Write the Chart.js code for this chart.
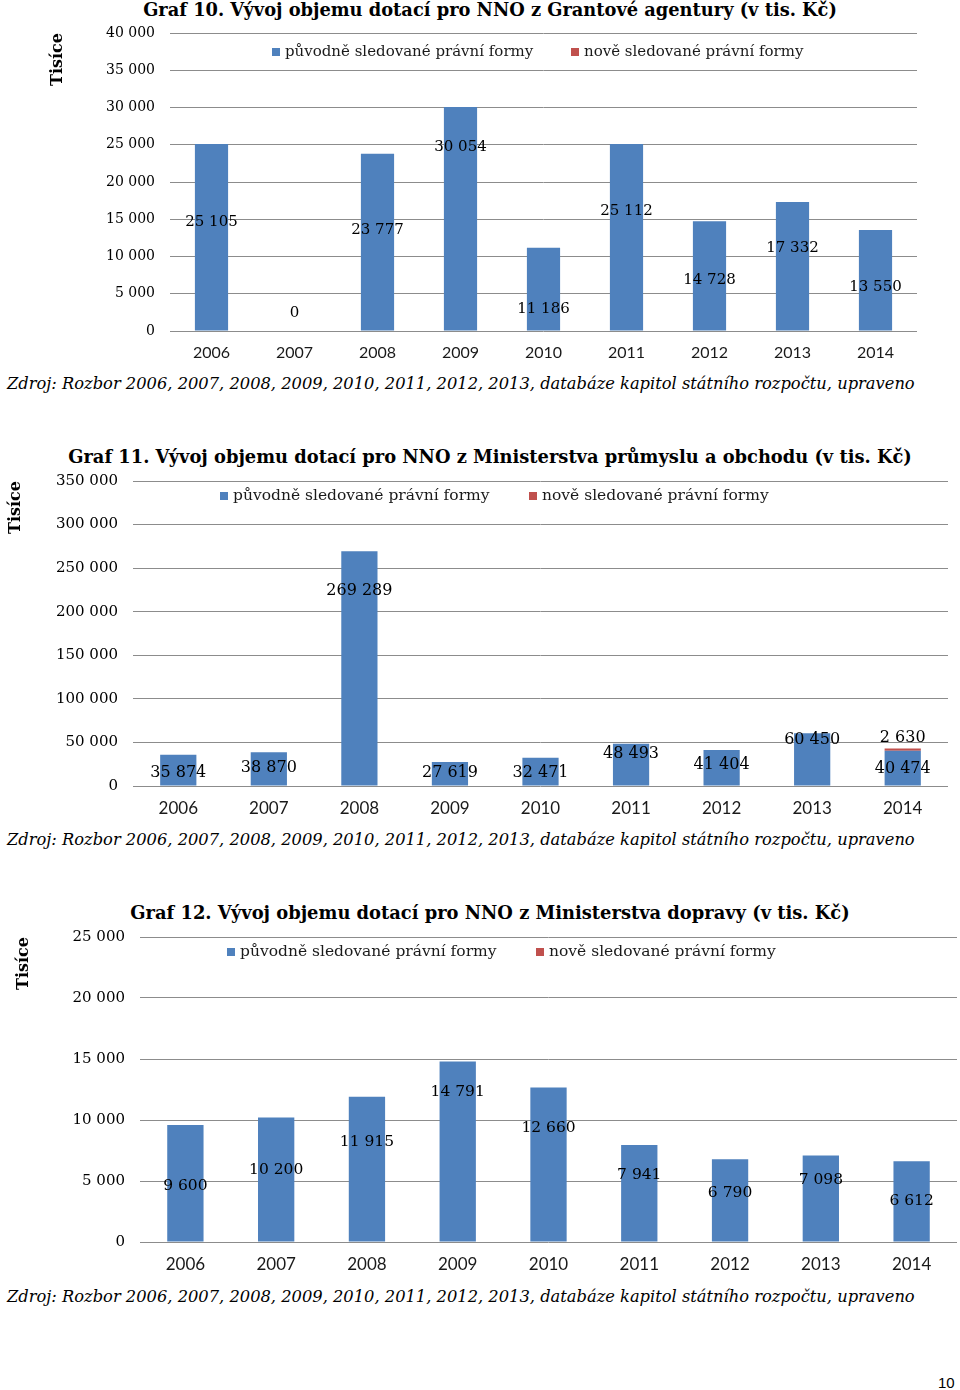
<!DOCTYPE html>
<html lang="cs">
<head>
<meta charset="utf-8">
<title>Vývoj objemu dotací pro NNO</title>
<script src="https://cdn.jsdelivr.net/npm/chart.js@4.4.1/dist/chart.umd.min.js"></script>
<style>
    html, body { margin: 0; padding: 0; background: #fff; }
    body { position: relative; width: 960px; height: 1390px; overflow: hidden; color: #000; }
    .nadpis { position: absolute; left: 20px; width: 940px; text-align: center; line-height: 20px;
              font-family: "DejaVu Serif", serif; font-weight: bold; font-size: 17px; white-space: nowrap; }
    .zdroj { position: absolute; left: 7px; line-height: 20px; font-family: "DejaVu Serif", serif;
             font-style: italic; font-size: 15px; white-space: nowrap; }
    .nadpis span, .zdroj span { display: inline-block; }
    canvas { position: absolute; left: 0; }
    .strana { position: absolute; left: 938px; top: 1374px; font: 15px "Liberation Sans", Arial, sans-serif; }
</style>
</head>
<body>

<div class="nadpis" style="top:0px"><span data-fit="694">Graf 10. Vývoj objemu dotací pro NNO z Grantové agentury (v tis. Kč)</span></div>
<canvas id="graf10" width="960" height="345" style="top:20px"></canvas>
<div class="zdroj" style="top:374px"><span data-fit="909">Zdroj: Rozbor 2006, 2007, 2008, 2009, 2010, 2011, 2012, 2013, databáze kapitol státního rozpočtu, upraveno</span></div>

<div class="nadpis" style="top:447px"><span data-fit="844">Graf 11. Vývoj objemu dotací pro NNO z Ministerstva průmyslu a obchodu (v tis. Kč)</span></div>
<canvas id="graf11" width="960" height="354" style="top:466px"></canvas>
<div class="zdroj" style="top:830px"><span data-fit="909">Zdroj: Rozbor 2006, 2007, 2008, 2009, 2010, 2011, 2012, 2013, databáze kapitol státního rozpočtu, upraveno</span></div>

<div class="nadpis" style="top:903px"><span data-fit="720">Graf 12. Vývoj objemu dotací pro NNO z Ministerstva dopravy (v tis. Kč)</span></div>
<canvas id="graf12" width="960" height="354" style="top:922px"></canvas>
<div class="zdroj" style="top:1287px"><span data-fit="909">Zdroj: Rozbor 2006, 2007, 2008, 2009, 2010, 2011, 2012, 2013, databáze kapitol státního rozpočtu, upraveno</span></div>

<div class="strana">10</div>

<script>
// data (v tis. Kč)
const years = ['2006', '2007', '2008', '2009', '2010', '2011', '2012', '2013', '2014'];

// Graf 10 - Grantová agentura
const gaOriginal = [25105, 0, 23777, 30054, 11186, 25112, 14728, 17332, 13550];
const gaAdded = [null, null, null, null, null, null, null, null, null];
const gaTicks = [0, 5000, 10000, 15000, 20000, 25000, 30000, 35000, 40000];

// Graf 11 - Ministerstvo průmyslu a obchodu
const mpoOriginal = [35874, 38870, 269289, 27619, 32471, 48493, 41404, 60450, 40474];
const mpoAdded = [null, null, null, null, null, null, null, null, 2630];
const mpoTicks = [0, 50000, 100000, 150000, 200000, 250000, 300000, 350000];

// Graf 12 - Ministerstvo dopravy
const mdOriginal = [9600, 10200, 11915, 14791, 12660, 7941, 6790, 7098, 6612];
const mdAdded = [null, null, null, null, null, null, null, null, null];
const mdTicks = [0, 5000, 10000, 15000, 20000, 25000];

// where the value label sits inside each bar (share of bar height from its base)
const gaLabelAt = [0.58, 0, 0.57, 0.82, 0.26, 0.64, 0.46, 0.64, 0.43];
const mpoLabelAt = [0.42, 0.53, 0.83, 0.54, 0.46, 0.76, 0.58, 0.87, 0.48];
const mdLabelAt = [0.48, 0.58, 0.69, 0.83, 0.74, 0.69, 0.59, 0.72, 0.50];

const BLUE = '#4F81BD';
const RED = '#C0504D';
const SERIF = '"DejaVu Serif", serif';

const fmt = v => String(v).replace(/\B(?=(\d{3})+(?!\d))/g, ' ');

// titles and source lines: stretch font size to the width used in the original
document.querySelectorAll('[data-fit]').forEach(el => {
    const size = parseFloat(getComputedStyle(el).fontSize);
    const w = el.getBoundingClientRect().width;
    el.style.fontSize = (size * el.dataset.fit / w).toFixed(2) + 'px';
});

// legend drawn inside the plot area, like in Excel
const insideLegend = {
    id: 'insideLegend',
    afterDraw(chart, args, opts) {
        const ctx = chart.ctx;
        const y = chart.chartArea.top + opts.dy;
        let x = opts.x;
        ctx.save();
        ctx.font = opts.size + 'px ' + SERIF;
        ctx.textAlign = 'left';
        ctx.textBaseline = 'middle';
        chart.data.datasets.forEach(ds => {
            ctx.fillStyle = ds.backgroundColor;
            ctx.fillRect(x, y - 4, 8, 8);
            ctx.fillStyle = '#1a1a1a';
            ctx.fillText(ds.label, x + 13, y);
            x += opts.gap;
        });
        ctx.restore();
    }
};

// value labels on the bars
const valueLabels = {
    id: 'valueLabels',
    afterDatasetsDraw(chart, args, opts) {
        const ctx = chart.ctx;
        ctx.save();
        ctx.font = opts.size + 'px ' + SERIF;
        ctx.fillStyle = '#000';
        ctx.textAlign = 'center';
        ctx.textBaseline = 'middle';
        chart.data.datasets.forEach((ds, di) => {
            chart.getDatasetMeta(di).data.forEach((bar, i) => {
                const v = ds.data[i];
                if (v === null || v === undefined) return;
                const h = bar.base - bar.y;
                const share = ds.labelAt ? ds.labelAt[i] : 0.5;
                const lift = Math.max(share * h, opts.minLift);
                ctx.fillText(fmt(v), bar.x, bar.base - lift);
            });
        });
        ctx.restore();
    }
};

function drawDotaceChart(canvasId, s) {
    const ctx = document.getElementById(canvasId).getContext('2d');
    return new Chart(ctx, {
        type: 'bar',
        data: {
            labels: years,
            datasets: [{
                label: 'původně sledované právní formy',
                data: s.original,
                backgroundColor: BLUE,
                categoryPercentage: 1,
                barPercentage: 0.4,
                labelAt: s.labelAt
            }, {
                label: 'nově sledované právní formy',
                data: s.added,
                backgroundColor: RED,
                categoryPercentage: 1,
                barPercentage: 0.4
            }]
        },
        options: {
            responsive: false,
            animation: false,
            layout: { padding: s.padding },
            plugins: {
                legend: { display: false },
                tooltip: { enabled: false },
                insideLegend: s.legend,
                valueLabels: { minLift: s.minLift, size: s.labelSize }
            },
            scales: {
                x: {
                    stacked: true,
                    grid: { display: false, drawTicks: false },
                    border: { display: false },
                    ticks: { color: '#1a1a1a', font: { family: 'Lato', size: s.yearSize }, padding: 12 },
                    afterFit: sc => { sc.height = 34; }
                },
                y: {
                    stacked: true,
                    min: s.ticks[0],
                    max: s.ticks[s.ticks.length - 1],
                    afterBuildTicks: sc => { sc.ticks = s.ticks.map(v => ({ value: v })); },
                    ticks: {
                        color: '#000',
                        padding: 15,
                        font: { family: SERIF, size: s.tickSize },
                        callback: v => fmt(v)
                    },
                    grid: { color: '#8c8c8c', drawTicks: false },
                    border: { display: false },
                    title: {
                        display: true,
                        text: 'Tisíce',
                        align: 'end',
                        padding: 0,
                        color: '#000',
                        font: { family: SERIF, size: 16, weight: 'bold' }
                    },
                    afterFit: sc => {
                        sc.width = s.axisWidth;
                        // tick padding would otherwise push the plot top down
                        sc.paddingTop = 0;
                        sc.paddingBottom = 0;
                    }
                }
            }
        },
        plugins: [insideLegend, valueLabels]
    });
}

drawDotaceChart('graf10', {
    original: gaOriginal, added: gaAdded, ticks: gaTicks, labelAt: gaLabelAt,
    padding: { top: 13, left: 48, right: 43, bottom: 0 }, axisWidth: 122,
    legend: { x: 272, dy: 19, gap: 299, size: 15 }, minLift: 18,
    tickSize: 14, labelSize: 15, yearSize: 16
});

drawDotaceChart('graf11', {
    original: mpoOriginal, added: mpoAdded, ticks: mpoTicks, labelAt: mpoLabelAt,
    padding: { top: 15, left: 6, right: 12, bottom: 0 }, axisWidth: 127,
    legend: { x: 220, dy: 15, gap: 309, size: 15.5 }, minLift: 13,
    tickSize: 15, labelSize: 16, yearSize: 17
});

drawDotaceChart('graf12', {
    original: mdOriginal, added: mdAdded, ticks: mdTicks, labelAt: mdLabelAt,
    padding: { top: 15, left: 14, right: 3, bottom: 0 }, axisWidth: 126,
    legend: { x: 227, dy: 15, gap: 309, size: 15.5 }, minLift: 13,
    tickSize: 15, labelSize: 15.5, yearSize: 17
});
</script>
</body>
</html>
